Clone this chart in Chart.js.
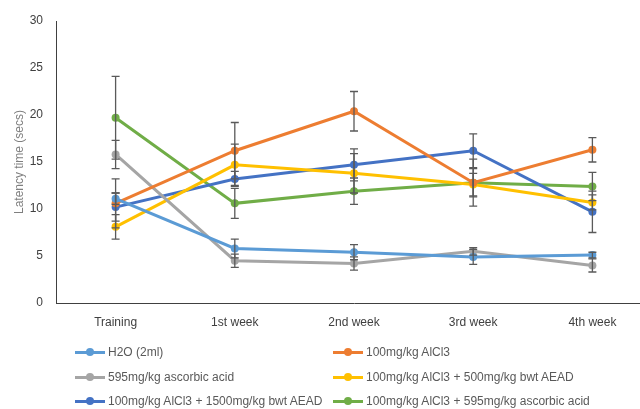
<!DOCTYPE html>
<html>
<head>
<meta charset="utf-8">
<script src="https://cdn.jsdelivr.net/npm/chart.js@4/dist/chart.umd.min.js"></script>
<style>
  html, body { margin: 0; padding: 0; background: #fff; overflow: hidden; width: 640px; height: 409px; }
  #wrap { position: absolute; left: 0; top: 0; width: 656px; height: 335px; }
  #legend { position: absolute; left: 0; top: 0; width: 640px; height: 409px;
            font: 12px 'Liberation Sans', Arial, sans-serif; color: #595959; }
  .item { position: absolute; height: 16px; display: flex; align-items: center; white-space: nowrap; }
  .swatch { position: relative; width: 30px; height: 3px; margin-right: 3px; }
  .swatch i { position: absolute; left: 11px; top: -2.5px; width: 8px; height: 8px; border-radius: 50%; }
</style>
</head>
<body>
<div id="wrap"><canvas id="c" width="656" height="335"></canvas></div>
<div id="legend"></div>
<script>
// Time points
const categories = ['Training', '1st week', '2nd week', '3rd week', '4th week'];

// Mean latency (secs) per group
const h2o        = [11.1, 5.8, 5.4, 4.9, 5.1];
const alcl3      = [10.6, 16.2, 20.4, 12.8, 16.3];
const ascorbic   = [15.8, 4.5, 4.2, 5.5, 4.0];
const aead500    = [8.1, 14.7, 13.8, 12.6, 10.7];
const aead1500   = [10.2, 13.2, 14.7, 16.2, 9.7];
const alcl3Asc   = [19.7, 10.6, 11.9, 12.8, 12.4];

// Error (± secs) per group
const h2oErr      = [0.6, 1.0, 0.8, 0.8, 0.3];
const alcl3Err    = [2.6, 3.0, 2.1, 2.5, 1.3];
const ascorbicErr = [1.5, 0.7, 0.7, 0.4, 0.7];
const aead500Err  = [1.3, 2.2, 2.1, 1.2, 0.8];
const aead1500Err = [1.5, 0.8, 1.7, 1.8, 2.2];
const alcl3AscErr = [4.4, 1.6, 1.4, 1.5, 1.5];

// Y axis ticks
const yTicks = [0, 5, 10, 15, 20, 25, 30];

const FONT = "'Liberation Sans', Arial, sans-serif";

function series(label, data, errors, color) {
  return {
    label, data, errors,
    borderColor: color, backgroundColor: color,
    borderWidth: 3, tension: 0,
    pointRadius: 4, pointHoverRadius: 4, pointBorderWidth: 0,
    pointBackgroundColor: color
  };
}

// Vertical error bars with caps
const errorBars = {
  id: 'errorBars',
  afterDatasetsDraw(chart) {
    const { ctx, scales: { x, y } } = chart;
    ctx.save();
    ctx.strokeStyle = '#5a5a5a';
    ctx.lineWidth = 1.3;
    chart.data.datasets.forEach(ds => {
      ds.data.forEach((v, i) => {
        const e = ds.errors[i];
        const px = x.getPixelForValue(i);
        const top = y.getPixelForValue(v + e);
        const bot = y.getPixelForValue(v - e);
        ctx.beginPath();
        ctx.moveTo(px, top); ctx.lineTo(px, bot);
        ctx.moveTo(px - 4, top); ctx.lineTo(px + 4, top);
        ctx.moveTo(px - 4, bot); ctx.lineTo(px + 4, bot);
        ctx.stroke();
      });
    });
    ctx.restore();
  }
};

const chart = new Chart(document.getElementById('c'), {
  type: 'line',
  data: {
    labels: categories,
    datasets: [
      series('H2O (2ml)', h2o, h2oErr, '#5B9BD5'),
      series('100mg/kg AlCl3', alcl3, alcl3Err, '#ED7D31'),
      series('595mg/kg ascorbic acid', ascorbic, ascorbicErr, '#A5A5A5'),
      series('100mg/kg AlCl3 + 500mg/kg bwt AEAD', aead500, aead500Err, '#FFC000'),
      series('100mg/kg AlCl3 + 1500mg/kg bwt AEAD', aead1500, aead1500Err, '#4472C4'),
      series('100mg/kg AlCl3 + 595mg/kg ascorbic acid', alcl3Asc, alcl3AscErr, '#70AD47')
    ]
  },
  options: {
    responsive: false,
    animation: false,
    layout: { padding: { top: 21, left: 0, right: 0, bottom: 0 } },
    plugins: { legend: { display: false }, tooltip: { enabled: false } },
    scales: {
      x: {
        type: 'category',
        offset: true,
        grid: { display: false, drawTicks: false },
        border: { display: true, color: '#404040', width: 1 },
        ticks: { color: '#404040', font: { family: FONT, size: 12 }, padding: 12, maxRotation: 0 },
        afterFit(s) { s.height = 32; }
      },
      y: {
        min: 0, max: 30,
        afterBuildTicks(s) { s.ticks = yTicks.map(v => ({ value: v })); },
        grid: { display: false, drawTicks: false },
        border: { display: true, color: '#404040', width: 1 },
        ticks: { color: '#404040', font: { family: FONT, size: 12 }, padding: 13 },
        title: {
          display: true, text: 'Latency time (secs)', color: '#7f7f7f',
          font: { family: FONT, size: 12 }, padding: { top: 12, bottom: 0 }
        },
        afterFit(s) { s.width = 56; }
      }
    }
  },
  plugins: [errorBars]
});

// Two-column legend below the plot
const legendCols = [75, 333];
const legendRows = [352, 377, 401];
const legendEl = document.getElementById('legend');
chart.data.datasets.forEach((ds, i) => {
  const item = document.createElement('div');
  item.className = 'item';
  item.style.left = legendCols[i % 2] + 'px';
  item.style.top = (legendRows[Math.floor(i / 2)] - 8) + 'px';
  const sw = document.createElement('span');
  sw.className = 'swatch';
  sw.style.background = ds.borderColor;
  const dot = document.createElement('i');
  dot.style.background = ds.borderColor;
  sw.appendChild(dot);
  const txt = document.createElement('span');
  txt.textContent = ds.label;
  item.appendChild(sw);
  item.appendChild(txt);
  legendEl.appendChild(item);
});
</script>
</body>
</html>
